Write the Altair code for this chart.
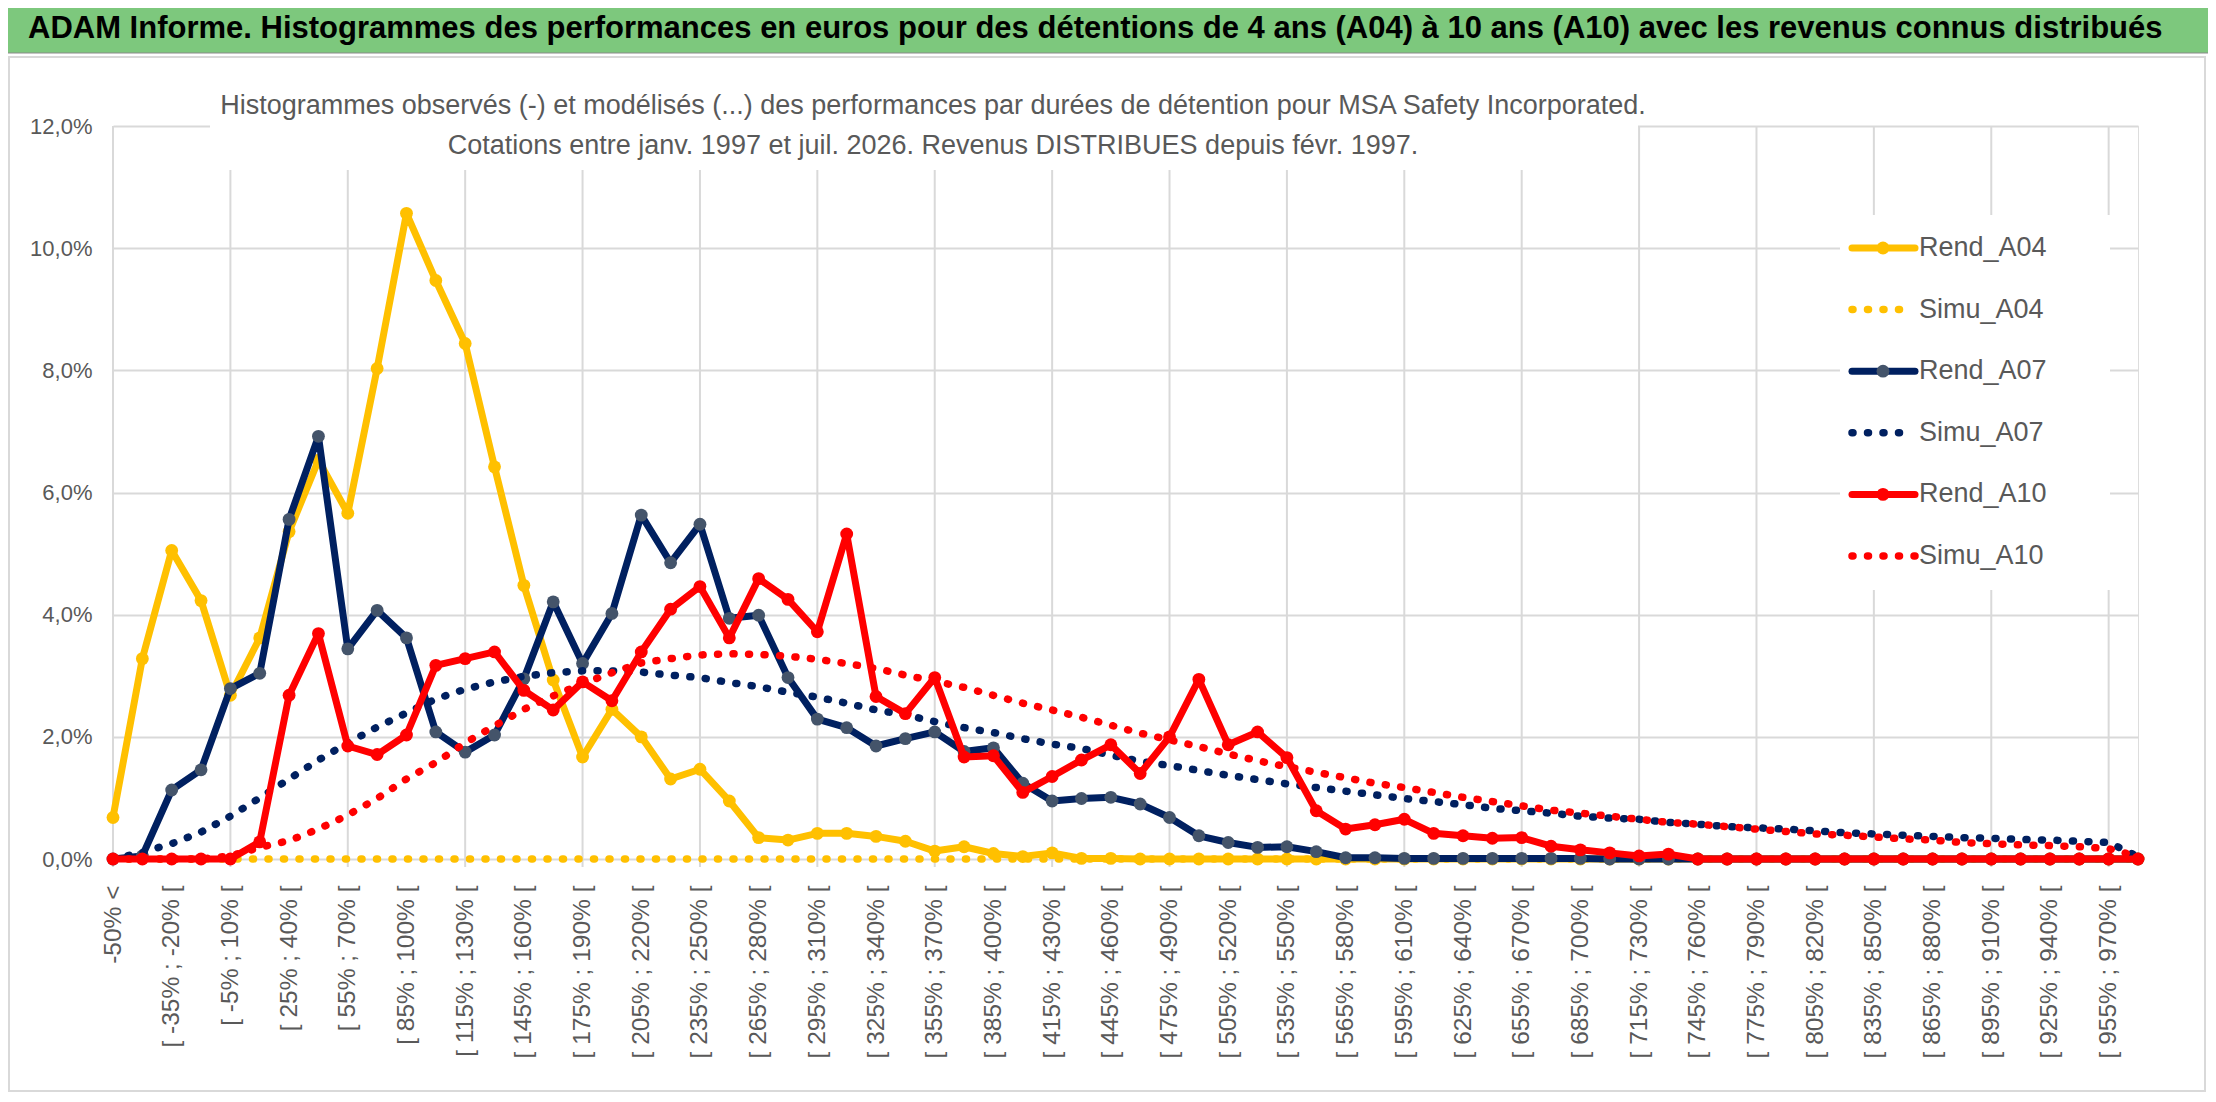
import altair as alt
import pandas as pd

# categories: "-50% <" then 15-point bins up to 985%
cats = ["-50% <"] + [f"[ {lo}% ; {lo + 15}% [" for lo in range(-50, 971, 15)]

# values, in %
rend_a04 = [0.68, 3.28, 5.05, 4.23, 2.68, 3.62, 5.36, 6.53, 5.66, 8.03,
            10.57, 9.47, 8.44, 6.42, 4.48, 2.93, 1.67, 2.45, 2.00, 1.31,
            1.47, 0.95, 0.35, 0.31, 0.42, 0.42, 0.37, 0.29, 0.13, 0.20,
            0.09, 0.04, 0.10, 0.01, 0.01, 0.00, 0.00, 0.00, 0.00, 0.00,
            0.00, 0.00, 0.00, 0.00, 0.00, 0.00, 0.00, 0.00, 0.00, 0.00,
            0.00, 0.00, 0.00, 0.00, 0.00, 0.00, 0.00, 0.00, 0.00, 0.00,
            0.00, 0.00, 0.00, 0.00, 0.00, 0.00, 0.00, 0.00, 0.00, 0.00]
simu_a04 = [0.00, 0.00, 0.00, 0.00, 0.00, 0.00, 0.00, 0.00, 0.00, 0.00,
            0.00, 0.00, 0.00, 0.00, 0.00, 0.00, 0.00, 0.00, 0.00, 0.00,
            0.00, 0.00, 0.00, 0.00, 0.00, 0.00, 0.00, 0.00, 0.00, 0.00,
            0.00, 0.00, 0.00, 0.00, 0.00, 0.00, 0.00, 0.00, 0.00, 0.00,
            0.00, 0.00, 0.00, 0.00, 0.00, 0.00, 0.00, 0.00, 0.00, 0.00,
            0.00, 0.00, 0.00, 0.00, 0.00, 0.00, 0.00, 0.00, 0.00, 0.00,
            0.00, 0.00, 0.00, 0.00, 0.00, 0.00, 0.00, 0.00, 0.00, 0.00]
rend_a07 = [0.00, 0.05, 1.13, 1.46, 2.79, 3.04, 5.56, 6.92, 3.44, 4.07,
            3.62, 2.08, 1.75, 2.03, 2.95, 4.21, 3.20, 4.02, 5.63, 4.85,
            5.48, 3.94, 3.99, 2.97, 2.29, 2.15, 1.85, 1.97, 2.08, 1.76,
            1.82, 1.24, 0.95, 0.99, 1.01, 0.90, 0.68, 0.38, 0.27, 0.19,
            0.20, 0.12, 0.02, 0.02, 0.01, 0.01, 0.01, 0.01, 0.01, 0.01,
            0.01, 0.00, 0.00, 0.00, 0.00, 0.00, 0.00, 0.00, 0.00, 0.00,
            0.00, 0.00, 0.00, 0.00, 0.00, 0.00, 0.00, 0.00, 0.00, 0.00]
simu_a07 = [0.00, 0.11, 0.25, 0.44, 0.70, 1.00, 1.31, 1.62, 1.90, 2.16,
            2.39, 2.62, 2.78, 2.90, 2.99, 3.05, 3.08, 3.08, 3.06, 3.01,
            2.97, 2.89, 2.82, 2.73, 2.65, 2.55, 2.44, 2.36, 2.25, 2.15,
            2.07, 1.97, 1.88, 1.81, 1.70, 1.60, 1.53, 1.45, 1.37, 1.30,
            1.23, 1.17, 1.11, 1.05, 0.99, 0.94, 0.89, 0.83, 0.79, 0.75,
            0.70, 0.67, 0.65, 0.60, 0.57, 0.53, 0.51, 0.49, 0.46, 0.43,
            0.41, 0.39, 0.37, 0.35, 0.34, 0.32, 0.31, 0.29, 0.27, 0.04]
rend_a10 = [0.00, 0.00, 0.00, 0.00, 0.00, 0.28, 2.68, 3.69, 1.85, 1.71,
            2.03, 3.17, 3.28, 3.39, 2.76, 2.44, 2.90, 2.59, 3.39, 4.09,
            4.46, 3.62, 4.59, 4.25, 3.72, 5.32, 2.66, 2.38, 2.97, 1.67,
            1.69, 1.09, 1.35, 1.62, 1.87, 1.40, 2.00, 2.94, 1.87, 2.08,
            1.66, 0.79, 0.49, 0.56, 0.65, 0.42, 0.38, 0.34, 0.35, 0.21,
            0.15, 0.10, 0.05, 0.08, 0.00, 0.00, 0.00, 0.00, 0.00, 0.00,
            0.00, 0.00, 0.00, 0.00, 0.00, 0.00, 0.00, 0.00, 0.00, 0.00]
simu_a10 = [0.00, 0.00, 0.00, 0.00, 0.05, 0.19, 0.30, 0.49, 0.72, 0.99,
            1.31, 1.58, 1.90, 2.18, 2.45, 2.67, 2.87, 3.05, 3.21, 3.28,
            3.34, 3.36, 3.35, 3.32, 3.27, 3.20, 3.12, 3.01, 2.91, 2.81,
            2.68, 2.55, 2.44, 2.32, 2.19, 2.06, 1.95, 1.84, 1.72, 1.61,
            1.51, 1.42, 1.33, 1.24, 1.17, 1.09, 1.01, 0.94, 0.87, 0.80,
            0.75, 0.70, 0.65, 0.60, 0.57, 0.53, 0.49, 0.45, 0.41, 0.39,
            0.36, 0.33, 0.31, 0.27, 0.25, 0.23, 0.22, 0.20, 0.17, 0.04]

series = [
    ("Rend_A04", rend_a04, "#FFC000", False, "#FFC000"),
    ("Simu_A04", simu_a04, "#FFC000", True, None),
    ("Rend_A07", rend_a07, "#002060", False, "#44546A"),
    ("Simu_A07", simu_a07, "#002060", True, None),
    ("Rend_A10", rend_a10, "#FF0000", False, "#FF0000"),
    ("Simu_A10", simu_a10, "#FF0000", True, None),
]

title = ("ADAM Informe. Histogrammes des performances en euros pour des détentions "
         "de 4 ans (A04) à 10 ans (A10) avec les revenus connus distribués")
sub1 = ("Histogrammes observés (-) et modélisés (...) des performances par durées "
        "de détention pour MSA Safety Incorporated.")
sub2 = "Cotations entre janv. 1997 et juil. 2026. Revenus DISTRIBUES depuis févr. 1997."

W, H = 2025, 733
GRID = "#d9d9d9"
GREY = "#595959"

x_enc = alt.X(
    "cat:N", sort=cats, scale=alt.Scale(type="point", padding=0),
    axis=alt.Axis(values=cats[::2], title=None, labelAngle=270, grid=False,
                  ticks=False, domain=False, labelPadding=26, labelFontSize=24.5,
                  labelColor=GREY, labelLimit=400, labelOverlap=False),
)
y_enc = alt.Y(
    "v:Q", scale=alt.Scale(domain=[0, 12], nice=False),
    axis=alt.Axis(values=[0, 2, 4, 6, 8, 10, 12], title=None, grid=True,
                  gridColor=GRID, gridWidth=2, domain=False, ticks=False,
                  labelPadding=21, labelFontSize=22, labelColor=GREY,
                  labelExpr="replace(format(datum.value, '.1f'), '.', ',') + '%'"),
)

one = pd.DataFrame({"k": [0]})
layers = []

# frame and green banner
layers.append(alt.Chart(one).mark_rect(fill="transparent", stroke=GRID, strokeWidth=2).encode(
    x=alt.value(-104), x2=alt.value(2092), y=alt.value(-69), y2=alt.value(965)))
layers.append(alt.Chart(one).mark_rect(fill="#7DC87D", stroke="#8a8a8a", strokeWidth=1).encode(
    x=alt.value(-106), x2=alt.value(2096), y=alt.value(-119), y2=alt.value(-73)))

# vertical gridlines every 4 categories
grid_df = pd.DataFrame({"cat": cats[::4]})
layers.append(alt.Chart(grid_df).mark_rule(color=GRID, strokeWidth=2).encode(
    x=x_enc, y=alt.value(0), y2=alt.value(H + 8)))

# white boxes behind subtitle and legend
layers.append(alt.Chart(one).mark_rect(fill="white").encode(
    x=alt.value(97), x2=alt.value(1525), y=alt.value(-64), y2=alt.value(44)))
layers.append(alt.Chart(one).mark_rect(fill="white").encode(
    x=alt.value(1727), x2=alt.value(1997), y=alt.value(89), y2=alt.value(464)))

for name, vals, color, dotted, mcolor in series:
    df = pd.DataFrame({"cat": cats, "v": vals})
    if dotted:
        layers.append(alt.Chart(df).mark_line(
            color=color, strokeWidth=7.5, strokeCap="round", strokeDash=[1, 14.5]
        ).encode(x=x_enc, y=y_enc))
    else:
        layers.append(alt.Chart(df).mark_line(
            color=color, strokeWidth=7, strokeJoin="round", strokeCap="round"
        ).encode(x=x_enc, y=y_enc))
        layers.append(alt.Chart(df).mark_circle(
            color=mcolor, opacity=1, size=165
        ).encode(x=x_enc, y=y_enc))

# legend
for k, (name, vals, color, dotted, mcolor) in enumerate(series):
    ly = 122 + 61.6 * k
    if dotted:
        x_end = 1803 if name == "Simu_A10" else 1787
        layers.append(alt.Chart(one).mark_rule(
            color=color, strokeWidth=7.5, strokeCap="round", strokeDash=[1, 14.5]
        ).encode(x=alt.value(1739), x2=alt.value(x_end), y=alt.value(ly)))
    else:
        layers.append(alt.Chart(one).mark_rule(
            color=color, strokeWidth=7, strokeCap="round"
        ).encode(x=alt.value(1739), x2=alt.value(1802), y=alt.value(ly)))
        layers.append(alt.Chart(one).mark_circle(color=mcolor, opacity=1, size=165).encode(
            x=alt.value(1770), y=alt.value(ly)))
    layers.append(alt.Chart(one).mark_text(
        text=name, align="left", baseline="middle", fontSize=27, color=GREY
    ).encode(x=alt.value(1806), y=alt.value(ly)))

# texts
layers.append(alt.Chart(one).mark_text(
    text=title, align="left", baseline="middle", fontSize=31, fontWeight="bold", color="black"
).encode(x=alt.value(-85), y=alt.value(-97)))
layers.append(alt.Chart(one).mark_text(
    text=sub1, align="center", baseline="middle", fontSize=27, color=GREY
).encode(x=alt.value(820), y=alt.value(-20)))
layers.append(alt.Chart(one).mark_text(
    text=sub2, align="center", baseline="middle", fontSize=27, color=GREY
).encode(x=alt.value(820), y=alt.value(20)))

chart = alt.layer(*layers).properties(
    width=W, height=H,
    autosize=alt.AutoSizeParams(type="none"),
    padding={"left": 105, "top": 118, "right": 70, "bottom": 235},
    background="white",
).configure_view(stroke="transparent").configure_scale(
    pointPadding=0
).configure(font="Liberation Sans")

chart.save("out.html", embed_options={"renderer": "svg", "actions": False})
